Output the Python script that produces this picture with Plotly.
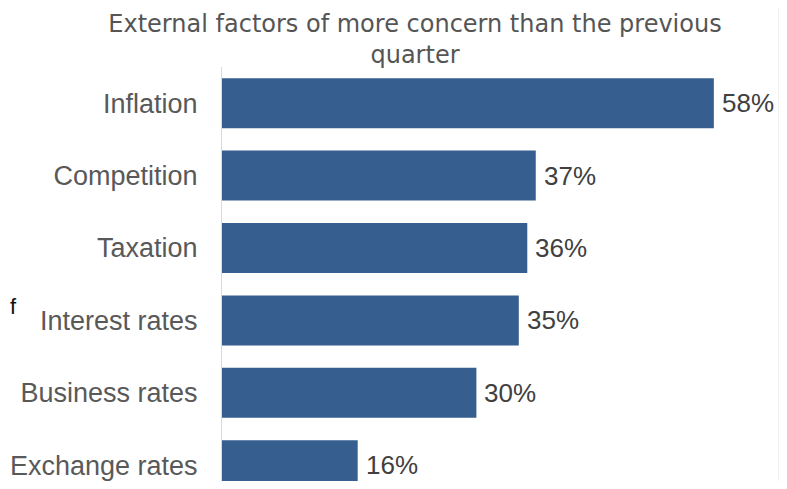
import plotly.graph_objects as go

categories = ["Inflation", "Competition", "Taxation", "Interest rates", "Business rates", "Exchange rates"]
values = [58, 37, 36, 35, 30, 16]
value_labels = ["58%", "37%", "36%", "35%", "30%", "16%"]
title_text = "External factors of more concern than the previous<br>quarter"

# page offset of the plotly div (default body margin, 8px on every side)
OFF = 8
W, H = 787, 489 - 2 * OFF
L, T = 222 - OFF, 67 - OFF
R = W + OFF - 778          # plot area ends at page x 778
PW = W - L - R
PH = H - T
PITCH = 72.4
y_top = -0.5
y_bottom = y_top + PH / PITCH

fig = go.Figure()
fig.add_trace(go.Bar(
    x=values,
    y=categories,
    orientation="h",
    marker=dict(color="#365f8f", line=dict(width=0)),
    hoverinfo="skip",
))

annos = []
for c, v, s in zip(categories, values, value_labels):
    annos.append(dict(
        x=v, y=c, xref="x", yref="y", text=s, showarrow=False,
        xanchor="left", yanchor="middle", xshift=6,
        font=dict(family="Liberation Sans, Arial, sans-serif", size=26, color="#404040"),
    ))
annos.append(dict(
    text="f", xref="paper", yref="paper",
    x=-L / PW, xanchor="left",
    y=1 - (306 - 67) / PH, yanchor="middle",
    showarrow=False,
    font=dict(family="Liberation Sans, Arial, sans-serif", size=22, color="#111111"),
))

fig.update_layout(
    width=W, height=H,
    margin=dict(l=L, r=R, t=T, b=0, pad=0),
    paper_bgcolor="white",
    plot_bgcolor="white",
    bargap=0.31,
    showlegend=False,
    title=dict(
        text=title_text,
        x=(415 - OFF) / W, xanchor="center",
        y=1 - (32 - OFF) / H, yanchor="middle",
        yref="container", xref="container",
        font=dict(family="DejaVu Sans, sans-serif", size=24, color="#555555"),
    ),
    xaxis=dict(
        range=[0, PW / 8.48],
        showgrid=False, zeroline=False, showline=False,
        showticklabels=False, ticks="",
    ),
    yaxis=dict(
        categoryorder="array", categoryarray=categories,
        range=[y_bottom, y_top],
        showgrid=False, zeroline=False,
        showline=True, linecolor="#d9d9d9", linewidth=1,
        ticks="outside", ticklen=18, tickcolor="rgba(0,0,0,0)",
        tickfont=dict(family="Liberation Sans, Arial, sans-serif", size=27, color="#595959"),
    ),
    shapes=[dict(
        type="rect", xref="paper", yref="paper",
        x0=1.0, x1=1.0 + R / PW,
        y0=0, y1=1 + T / PH,
        fillcolor="#f0f0f0", line=dict(width=0), layer="above",
    )],
    annotations=annos,
)

fig.write_html("out.html")
